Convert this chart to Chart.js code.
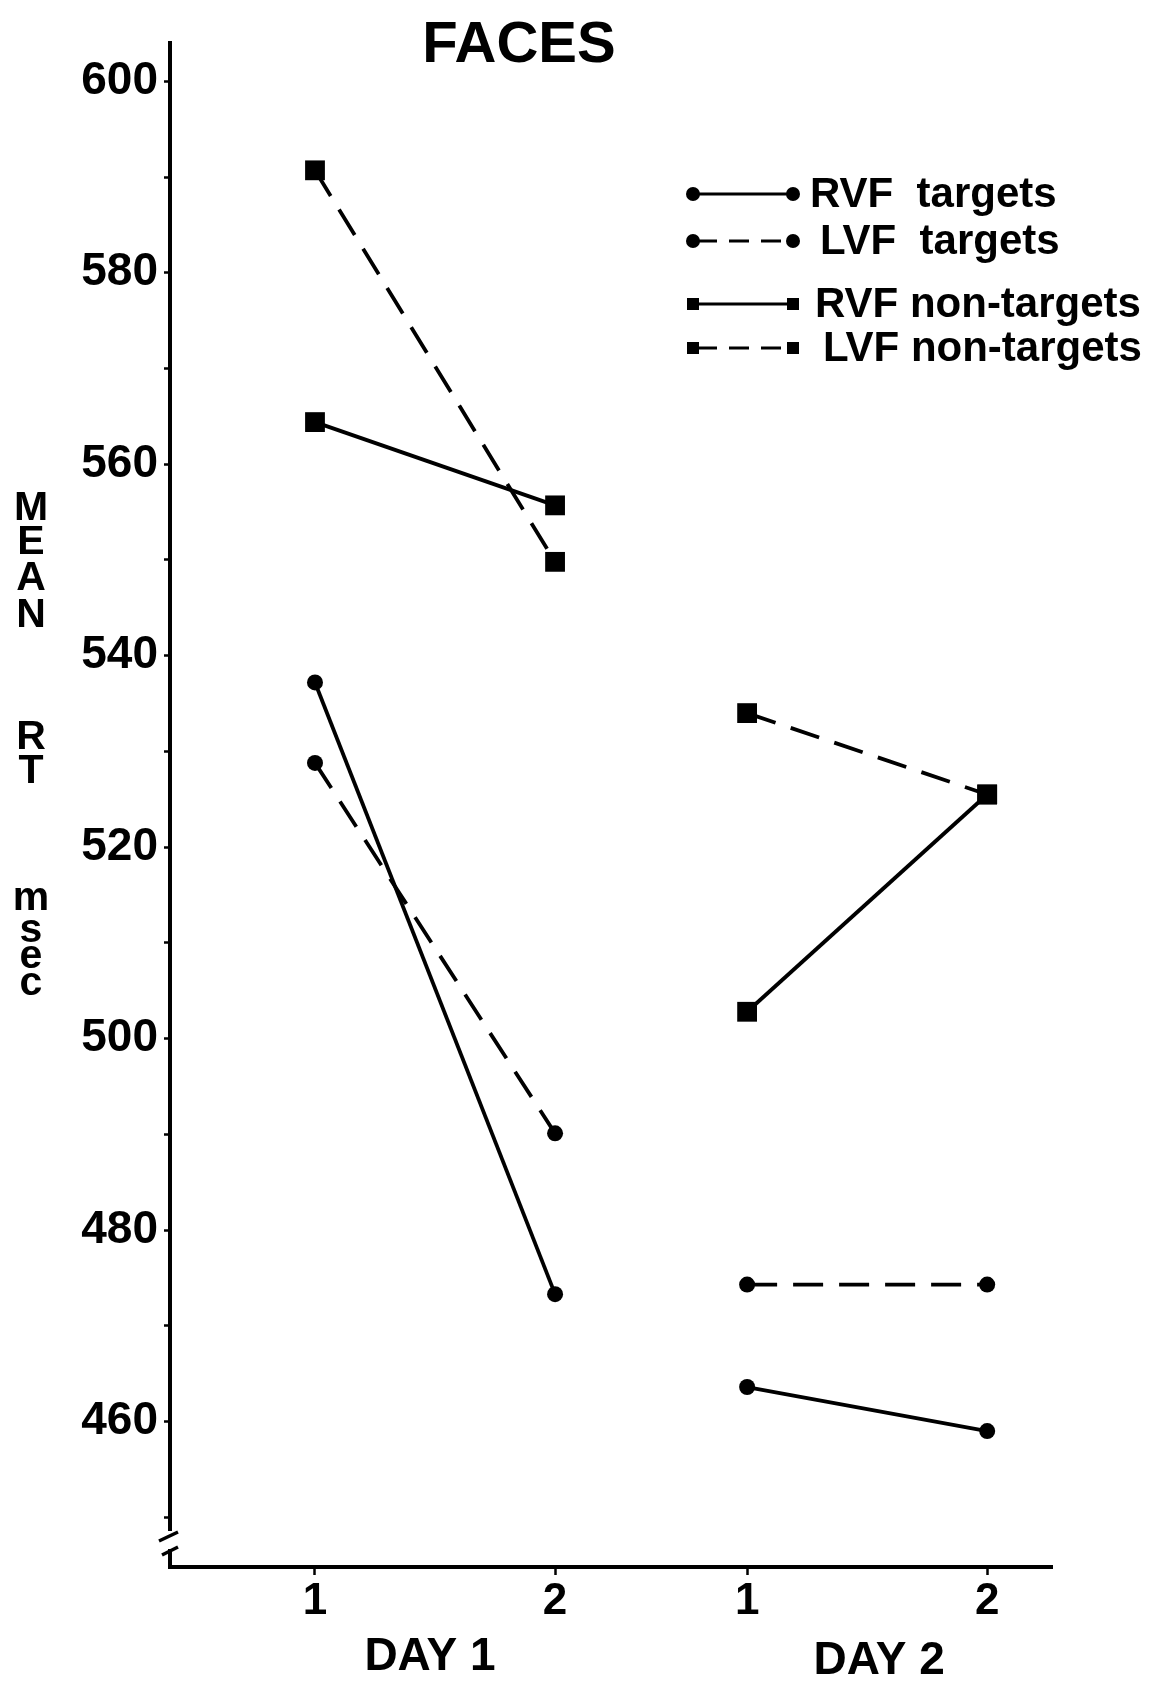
<!DOCTYPE html>
<html>
<head>
<meta charset="utf-8">
<script src="https://cdn.jsdelivr.net/npm/chart.js@4.4.1/dist/chart.umd.min.js"></script>
<style>
  html, body { margin: 0; padding: 0; background: #fff; }
</style>
</head>
<body>
<canvas id="myChart" width="1158" height="1681"></canvas>
<script>
// data
var xPos = [1, 2, 2.8, 3.8];
var dayOf = [1, 1, 2, 2];
var xTickLabels = ['1', '2', '1', '2'];
var dayLabels = ['DAY 1', 'DAY 2'];
var yTicks = [450, 460, 470, 480, 490, 500, 510, 520, 530, 540, 550, 560, 570, 580, 590, 600];
var seriesNames = ['RVF  targets', 'LVF  targets', 'RVF non-targets', 'LVF non-targets'];
var rvfTargets = [537.2, 473.3, 463.6, 459.0];
var lvfTargets = [528.8, 490.1, 474.3, 474.3];
var rvfNonTargets = [564.4, 555.7, 502.8, 525.5];
var lvfNonTargets = [590.7, 549.8, 534.0, 525.5];
var titleText = 'FACES';
var yTitleWords = ['MEAN', 'RT', 'msec'];

Chart.defaults.font.family = "'Liberation Sans', Arial, Helvetica, sans-serif";
Chart.defaults.color = '#000';

function pts(vals) {
  var out = [];
  for (var i = 0; i < vals.length; i++) out.push({ x: xPos[i], y: vals[i] });
  return out;
}

// hide the segment that joins day 1 to day 2
function seg(ctx) {
  return dayOf[ctx.p0DataIndex] !== dayOf[ctx.p1DataIndex] ? 'rgba(0,0,0,0)' : '#000';
}

function makeSet(label, vals, dashed, style) {
  return {
    label: label,
    data: pts(vals),
    borderColor: '#000',
    backgroundColor: '#000',
    borderWidth: 3.8,
    borderDash: dashed ? [30, 16] : [],
    pointStyle: style,
    pointRadius: style === 'rect' ? 14 : 8,
    pointBorderWidth: 0,
    tension: 0,
    segment: { borderColor: seg }
  };
}

// text, break mark and hand drawn legend
var extras = {
  id: 'extras',
  afterDraw: function(chart) {
    var c = chart.ctx;
    var xs = chart.scales.x;
    var area = chart.chartArea;
    c.save();
    c.fillStyle = '#000';
    c.strokeStyle = '#000';

    // title
    c.font = "bold 58px 'Liberation Sans', Arial";
    c.textAlign = 'center';
    c.textBaseline = 'middle';
    c.fillText(titleText, 519, 46);

    // stacked y title
    c.font = "bold 41px 'Liberation Sans', Arial";
    var letterY = [[509, 543, 579, 616], [738, 772], [899, 931, 957, 984]];
    for (var w = 0; w < yTitleWords.length; w++) {
      for (var k = 0; k < yTitleWords[w].length; k++) {
        c.fillText(yTitleWords[w][k], 31, letterY[w][k]);
      }
    }

    // day labels under the ticks
    c.font = "bold 46px 'Liberation Sans', Arial";
    var d1 = xs.getPixelForValue((xPos[0] + xPos[1]) / 2) - 5;
    var d2 = xs.getPixelForValue((xPos[2] + xPos[3]) / 2) + 12;
    c.fillText(dayLabels[0], d1, 1657);
    c.fillText(dayLabels[1], d2, 1661);

    // axis break
    c.fillStyle = '#fff';
    c.fillRect(area.left - 6, 1531, 14, 18);
    c.lineWidth = 3.5;
    c.beginPath();
    c.moveTo(159, 1541); c.lineTo(178, 1532);
    c.moveTo(162, 1555); c.lineTo(178, 1547);
    c.stroke();

    // legend
    var rows = [194, 241, 304, 348];
    var textX = [810, 820, 815, 823];
    c.fillStyle = '#000';
    c.textAlign = 'left';
    c.font = "bold 42px 'Liberation Sans', Arial";
    chart.data.datasets.forEach(function(ds, i) {
      var y = rows[i];
      c.lineWidth = 3;
      c.setLineDash(ds.borderDash.length ? [20, 12] : []);
      c.beginPath();
      c.moveTo(697, y); c.lineTo(790, y);
      c.stroke();
      c.setLineDash([]);
      [693, 793].forEach(function(px) {
        c.beginPath();
        if (ds.pointStyle === 'rect') c.rect(px - 6, y - 6, 12, 12);
        else c.arc(px, y, 7, 0, Math.PI * 2);
        c.fill();
      });
      c.fillText(ds.label, textX[i], y + 1);
    });
    c.restore();
  }
};

var ctx = document.getElementById('myChart').getContext('2d');
var chart = new Chart(ctx, {
  type: 'line',
  data: {
    datasets: [
      makeSet(seriesNames[0], rvfTargets, false, 'circle'),
      makeSet(seriesNames[1], lvfTargets, true, 'circle'),
      makeSet(seriesNames[2], rvfNonTargets, false, 'rect'),
      makeSet(seriesNames[3], lvfNonTargets, true, 'rect')
    ]
  },
  options: {
    responsive: false,
    animation: false,
    layout: { padding: { left: 0, top: 43, right: 106, bottom: 54 } },
    plugins: {
      legend: { display: false },
      tooltip: { enabled: false }
    },
    scales: {
      x: {
        type: 'linear',
        min: 0.396,
        max: 4.07,
        afterFit: function(s) { s.height = 60; },
        afterBuildTicks: function(s) { s.ticks = xPos.map(function(v) { return { value: v }; }); },
        border: { color: '#000', width: 4 },
        grid: { drawOnChartArea: false, color: '#000', tickLength: 8, tickWidth: 2.5 },
        ticks: {
          padding: 0,
          font: { size: 44, weight: 'bold' },
          callback: function(v, i) { return xTickLabels[i]; }
        }
      },
      y: {
        min: 444.8,
        max: 604,
        afterFit: function(s) { s.width = 170; },
        afterBuildTicks: function(s) { s.ticks = yTicks.map(function(v) { return { value: v }; }); },
        border: { color: '#000', width: 4 },
        grid: { drawOnChartArea: false, color: '#000', tickLength: 6, tickWidth: 2.5 },
        ticks: {
          padding: 6,
          font: { size: 46, weight: 'bold' },
          callback: function(v) { return v % 20 === 0 ? String(v) : ''; }
        }
      }
    }
  },
  plugins: [extras]
});
</script>
</body>
</html>
